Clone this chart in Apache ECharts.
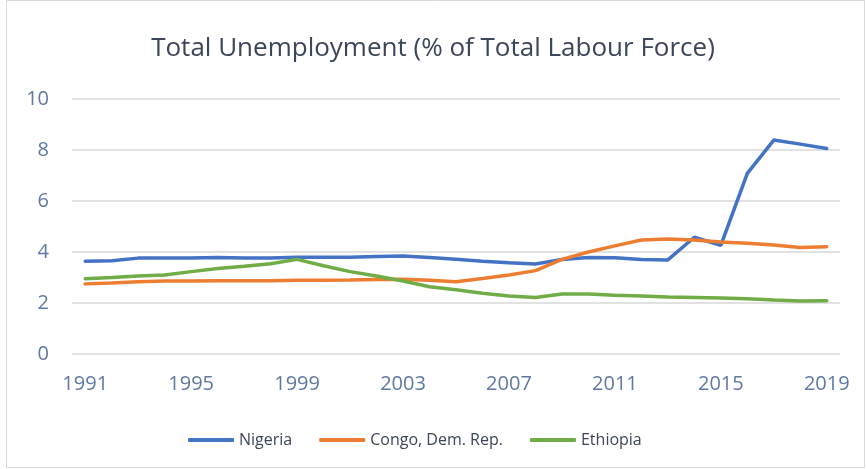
<!DOCTYPE html>
<html>
<head>
<meta charset="utf-8">
<script src="https://cdn.jsdelivr.net/npm/echarts@6/dist/echarts.min.js"></script>
<style>
  html, body { margin: 0; padding: 0; background: #fff; }
  #chart { width: 866px; height: 469px; }
</style>
</head>
<body>
<div id="chart"></div>
<script>
let years = [];
for (let y = 1991; y <= 2019; y++) years.push(String(y));

let nigeria = [3.64, 3.66, 3.76, 3.76, 3.76, 3.78, 3.76, 3.76, 3.79, 3.79, 3.79, 3.82, 3.84, 3.78,
  3.72, 3.64, 3.58, 3.53, 3.71, 3.78, 3.77, 3.71, 3.69, 4.58, 4.26, 7.08, 8.39, 8.23, 8.06];
let congo = [2.75, 2.78, 2.83, 2.86, 2.86, 2.87, 2.87, 2.87, 2.89, 2.89, 2.9, 2.92, 2.93, 2.89,
  2.83, 2.96, 3.1, 3.27, 3.71, 4.0, 4.24, 4.47, 4.51, 4.47, 4.39, 4.34, 4.27, 4.18, 4.21];
let ethiopia = [2.95, 3.0, 3.06, 3.1, 3.23, 3.35, 3.44, 3.54, 3.71, 3.46, 3.23, 3.06, 2.86, 2.64,
  2.52, 2.38, 2.27, 2.22, 2.35, 2.35, 2.3, 2.27, 2.24, 2.22, 2.2, 2.17, 2.12, 2.08, 2.09];

let chart = echarts.init(document.getElementById('chart'));

let option = {
  backgroundColor: '#fff',
  title: {
    text: 'Total Unemployment (% of Total Labour Force)',
    left: 'center',
    top: 31,
    textStyle: { fontFamily: 'Open Sans', fontSize: 26, fontWeight: 'normal', color: '#3b4658' }
  },
  graphic: [{
    type: 'rect',
    shape: { x: 6.5, y: 0.5, width: 858, height: 467 },
    style: { fill: 'none', stroke: '#d9d9d9', lineWidth: 1 },
    silent: true
  }],
  grid: { left: 72, right: 26, top: 99, bottom: 115 },
  legend: {
    top: 427,
    left: 183,
    itemWidth: 46,
    itemHeight: 4,
    itemGap: 27,
    icon: 'roundRect',
    textStyle: { fontFamily: 'Open Sans', fontSize: 16, color: '#3b4658' },
    data: ['Nigeria', 'Congo, Dem. Rep.', 'Ethiopia']
  },
  xAxis: {
    type: 'category',
    data: years,
    boundaryGap: true,
    axisLine: { show: false },
    axisTick: { show: false },
    axisLabel: {
      interval: 3,
      margin: 20,
      fontFamily: 'Open Sans',
      fontSize: 20,
      color: '#6079a0'
    }
  },
  yAxis: {
    type: 'value',
    min: 0,
    max: 10,
    interval: 2,
    axisLine: { show: false },
    axisTick: { show: false },
    axisLabel: { margin: 23, fontFamily: 'Open Sans', fontSize: 20, color: '#6079a0' },
    splitLine: { lineStyle: { color: '#d9d9d9', width: 1.5 } }
  },
  series: [
    {
      name: 'Nigeria', type: 'line', data: nigeria, symbol: 'none',
      lineStyle: { width: 3.5, color: '#4472c4', cap: 'round' }, itemStyle: { color: '#4472c4' }
    },
    {
      name: 'Congo, Dem. Rep.', type: 'line', data: congo, symbol: 'none',
      lineStyle: { width: 3.5, color: '#ed7d31', cap: 'round' }, itemStyle: { color: '#ed7d31' }
    },
    {
      name: 'Ethiopia', type: 'line', data: ethiopia, symbol: 'none',
      lineStyle: { width: 3.5, color: '#70ad47', cap: 'round' }, itemStyle: { color: '#70ad47' }
    }
  ]
};

chart.setOption(option);
</script>
</body>
</html>
